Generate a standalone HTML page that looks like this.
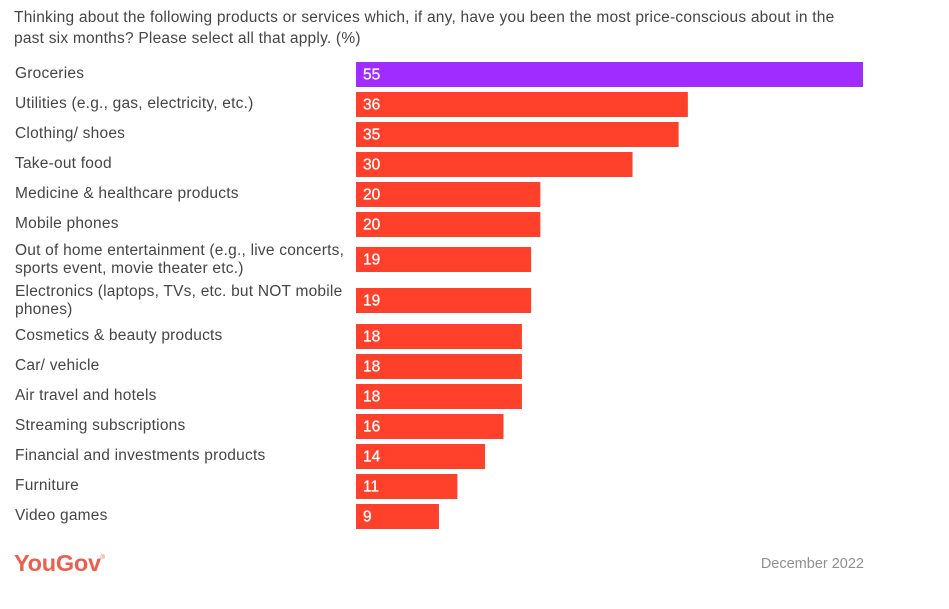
<!DOCTYPE html>
<html lang="en">
<head>
<meta charset="utf-8">
<title>YouGov price-conscious chart</title>
<style>
html,body{margin:0;padding:0;background:#fff;width:949px;height:609px;overflow:hidden}
svg{display:block;font-family:"Liberation Sans",sans-serif}
</style>
</head>
<body>
<svg id="chart" width="949" height="609" viewBox="0 0 949 609" xmlns="http://www.w3.org/2000/svg">
  <rect width="949" height="609" fill="#ffffff"/>
  <text font-size="15.5" fill="#454545" letter-spacing="0.22">
    <tspan x="14" y="22">Thinking about the following products or services which, if any, have you been the most price-conscious about in the</tspan>
    <tspan x="14" y="43">past six months? Please select all that apply. (%)</tspan>
  </text>
  <g id="rows"></g>
  <text x="14" y="571" font-size="23.5" font-weight="bold" fill="#e9604f" letter-spacing="-0.25">YouGov</text>
  <text x="100.5" y="559" font-size="6" fill="#e9604f">®</text>
  <text x="864" y="568" text-anchor="end" font-size="14.5" fill="#8f8f8f">December 2022</text>
</svg>
<script>
const categories = [
  ["Groceries"],
  ["Utilities (e.g., gas, electricity, etc.)"],
  ["Clothing/ shoes"],
  ["Take-out food"],
  ["Medicine & healthcare products"],
  ["Mobile phones"],
  ["Out of home entertainment (e.g., live concerts,", "sports event, movie theater etc.)"],
  ["Electronics (laptops, TVs, etc. but NOT mobile", "phones)"],
  ["Cosmetics & beauty products"],
  ["Car/ vehicle"],
  ["Air travel and hotels"],
  ["Streaming subscriptions"],
  ["Financial and investments products"],
  ["Furniture"],
  ["Video games"]
];
const values = [55, 36, 35, 30, 20, 20, 19, 19, 18, 18, 18, 16, 14, 11, 9];
const highlightIndex = 0;

const NS = "http://www.w3.org/2000/svg";
const plotLeft = 356;
const unitWidth = 507 / 55;
const plotTop = 59.5;
const rowSingle = 30;
const rowDouble = 41;
const barHeight = 25;
const xScale = function (v) { return v * unitWidth; };
const rowHeight = function (lines) { return lines > 1 ? rowDouble : rowSingle; };

const rowsGroup = document.getElementById("rows");
let cursor = plotTop;
values.forEach(function (value, i) {
  const lines = categories[i];
  const h = rowHeight(lines.length);
  const barTop = Math.floor(cursor + (h - barHeight) / 2);

  const bar = document.createElementNS(NS, "rect");
  
  
  bar.setAttribute("x", plotLeft);
  bar.setAttribute("y", barTop);
  bar.setAttribute("width", xScale(value));
  bar.setAttribute("height", barHeight);
  bar.setAttribute("fill", i === highlightIndex ? "#a02cff" : "#ff412c");
  rowsGroup.appendChild(bar);

  const valueLabel = document.createElementNS(NS, "text");
  
  
  valueLabel.setAttribute("x", plotLeft + 7);
  valueLabel.setAttribute("y", barTop + 17.5);
  valueLabel.setAttribute("font-size", "15.5");
  valueLabel.setAttribute("fill", "#ffffff");
  valueLabel.setAttribute("stroke", "#ffffff");
  valueLabel.setAttribute("stroke-width", "0.3");
  valueLabel.textContent = value;
  rowsGroup.appendChild(valueLabel);

  const label = document.createElementNS(NS, "text");
  
  
  label.setAttribute("font-size", "15.5");
  label.setAttribute("fill", "#454545");
  label.setAttribute("letter-spacing", "0.22");
  lines.forEach(function (line, j) {
    const t = document.createElementNS(NS, "tspan");
    t.setAttribute("x", 15);
    t.setAttribute("y", lines.length > 1 ? barTop + 8 + j * 18 : barTop + 16);
    t.textContent = line;
    label.appendChild(t);
  });
  rowsGroup.appendChild(label);

  cursor += h;
});
</script>
</body>
</html>
